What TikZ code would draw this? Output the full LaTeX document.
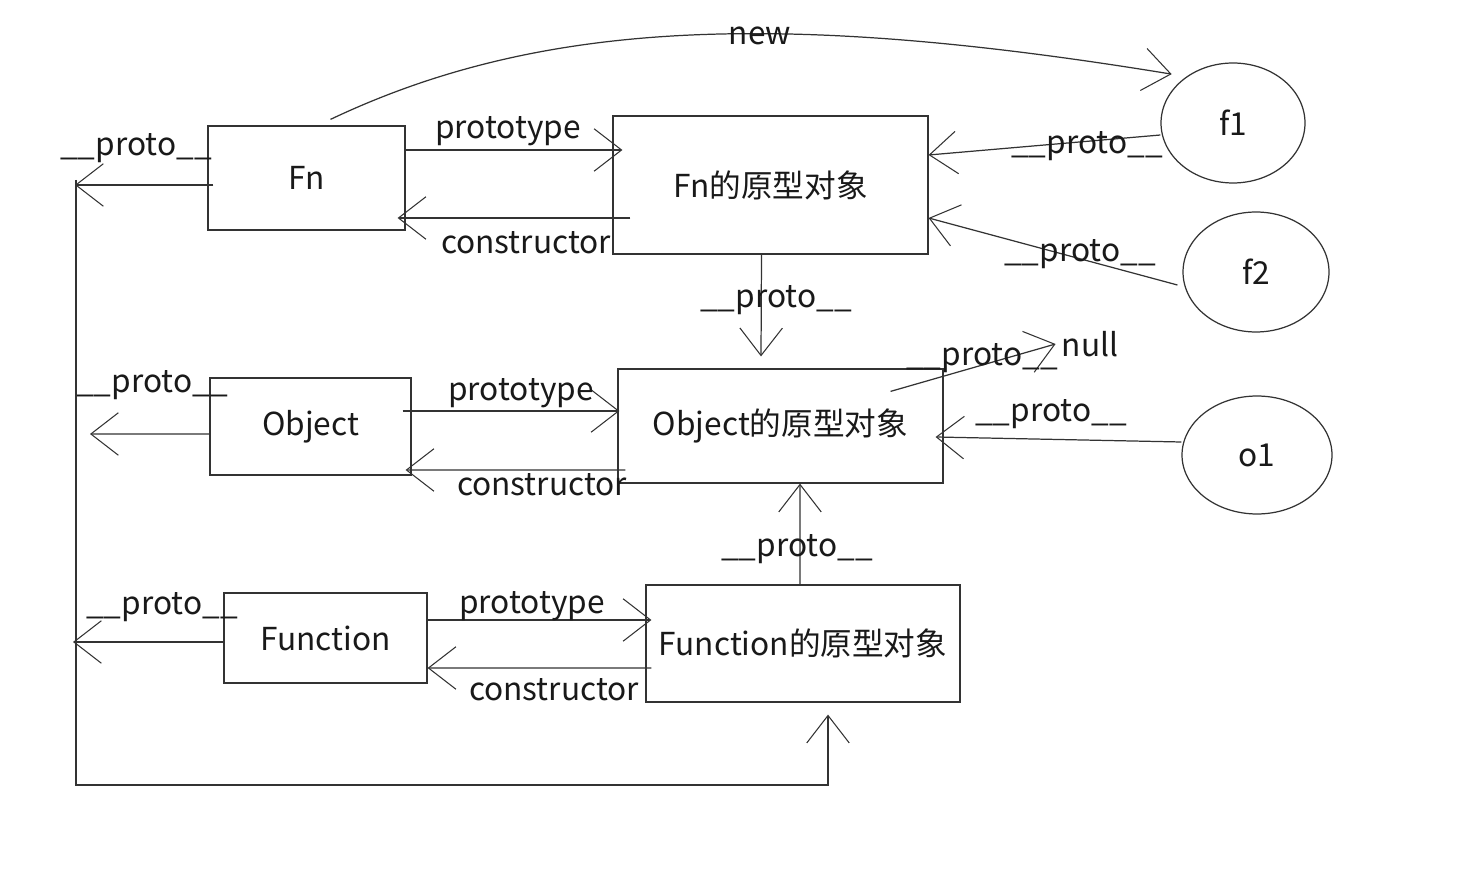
\documentclass[tikz,border=0pt]{standalone}
\usepackage{fontspec}
\newfontfamily\cjk{Noto Sans CJK SC}
\usetikzlibrary{arrows.meta,calc,shapes.geometric}

\begin{document}
\begin{tikzpicture}[x=0.02cm,y=-0.02cm,
  every node/.style={font=\cjk\fontsize{18}{21}\selectfont,text=black!90},
  box/.style={draw=black!80,line width=0.7pt,inner sep=0pt},
  circ/.style={draw=black!80,line width=0.7pt,ellipse,inner sep=0pt},
  arr/.style={draw=black!80,line width=0.7pt,-{Straight Barb[length=0.55cm,width=0.85cm,line width=0.6pt]}},
  line/.style={draw=black!80,line width=0.7pt}]
\useasboundingbox (0,0) rectangle (1460,884);
% boxes
\node[box,minimum width=3.94cm,minimum height=2.08cm] (fn) at (306.5,178) {Fn};
\node[box,minimum width=6.3cm,minimum height=2.76cm] (fnp) at (770.5,185) {Fn的原型对象};
\node[box,minimum width=4.02cm,minimum height=1.94cm] (obj) at (310.5,426.5) {Object};
\node[box,minimum width=6.5cm,minimum height=2.28cm] (objp) at (780.5,426) {Object的原型对象};
\node[box,minimum width=4.06cm,minimum height=1.8cm] (func) at (325.5,638) {Function};
\node[box,minimum width=6.28cm,minimum height=2.34cm] (funcp) at (803,643.5) {Function的原型对象};
% instances
\node[circ,minimum width=2.88cm,minimum height=2.4cm] (f1) at (1233,123) {f1};
\node[circ,minimum width=2.92cm,minimum height=2.4cm] (f2) at (1256,272) {f2};
\node[circ,minimum width=3.0cm,minimum height=2.36cm] (o1) at (1257,455) {o1};
\node (null) at (1090,344) {null};
% left rail
\coordinate (railtop) at (76,180);
\coordinate (railbot) at (76,785);
\coordinate (fnhook) at (75,185);
\coordinate (objhook) at (90,434);
\coordinate (funchook) at (73,642);
% new
\draw[arr] ($(fn.north)+(24,-6)$) .. controls (540,20) and (780,10) .. ($(f1.north west)+(-10,-6)$);
\node at (760,36) {new};
% prototype / constructor
\draw[arr] ($(fn.east)+(0,-28)$) -- ($(fnp.west)+(10,-35)$);
\node at (508,131) {prototype};
\draw[arr] ($(fnp.west)+(18,33)$) -- ($(fn.east)+(-8,40)$);
\node at (526,243) {constructor};
\draw[arr] ($(obj.east)+(-9,-15.5)$) -- ($(objp.west)+(2,-15)$);
\node at (521,393) {prototype};
\draw[arr] ($(objp.west)+(8,44)$) -- ($(obj.east)+(-6,43.5)$);
\node at (542,485) {constructor};
\draw[arr] ($(func.east)+(0,-18)$) -- ($(funcp.west)+(6,-23.5)$);
\node at (532,606) {prototype};
\draw[arr] ($(funcp.west)+(6,24.5)$) -- ($(func.east)+(0,30)$);
\node at (554,690) {constructor};
% __proto__ links
\draw[arr] ($(f1.west)+(0,12)$) -- ($(fnp.east)+(0,-30)$);
\node at (1087,146) {\_\_proto\_\_};
\draw[arr] ($(f2.west)+(-5,13)$) -- ($(fnp.east)+(0,33)$);
\node at (1080,254) {\_\_proto\_\_};
\draw[arr] ($(fnp.south)+(-9,0)$) -- ($(objp.north)+(-19.5,-12)$);
\node at (776,300) {\_\_proto\_\_};
\draw[arr] ($(objp.north east)+(-53,23)$) -- (null.west);
\node at (982,358) {\_\_proto\_\_};
\draw[arr] ($(o1.west)+(0,-13)$) -- ($(objp.east)+(-8,11)$);
\node at (1051,414) {\_\_proto\_\_};
\draw[arr] ($(funcp.north)+(-3,0)$) -- ($(objp.south)+(19.5,0)$);
\node at (797,549) {\_\_proto\_\_};
\draw[arr] ($(fn.west)+(6,7)$) -- (fnhook);
\node at (136,148) {\_\_proto\_\_};
\draw[arr] ($(obj.west)+(0,7.5)$) -- (objhook);
\node at (152,385) {\_\_proto\_\_};
\draw[arr] ($(func.west)+(0,4)$) -- (funchook);
\node at (162,607) {\_\_proto\_\_};
\draw[arr] (railtop) -- (railbot) -| ($(funcp.south)+(25,12)$);
\end{tikzpicture}
\end{document}
